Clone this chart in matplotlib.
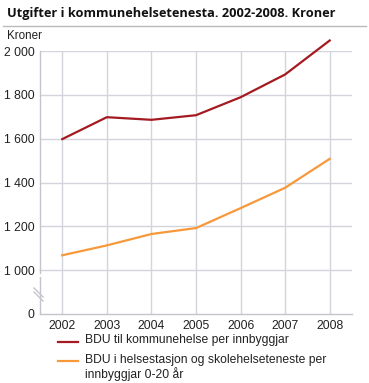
import matplotlib
matplotlib.use("Agg")
import matplotlib.pyplot as plt
from matplotlib.lines import Line2D
import numpy as np

years = [2002, 2003, 2004, 2005, 2006, 2007, 2008]
bdu_kommunehelse = [1598, 1698, 1686, 1707, 1789, 1893, 2048]
bdu_helsestasjon = [1068, 1113, 1165, 1192, 1283, 1376, 1508]
series_labels = ["BDU til kommunehelse per innbyggjar",
                 "BDU i helsestasjon og skolehelseteneste per\ninnbyggjar 0-20 år"]
ytick_vals = [0, 1000, 1200, 1400, 1600, 1800, 2000]
ytick_labels = ["0", "1 000", "1 200", "1 400", "1 600", "1 800", "2 000"]
title = "Utgifter i kommunehelsetenesta. 2002-2008. Kroner"
unit = "Kroner"

RED = "#a31b21"
ORANGE = "#f7983a"
GRID = "#d4d4dc"
FONT = "Liberation Sans"

W, H = 369, 383
fig = plt.figure(figsize=(W / 100, H / 100), dpi=100)

def px(x, y):
    return x / W, 1 - y / H

# broken axis: values below 1000 are compressed
def fwd(v):
    v = np.asarray(v, dtype=float)
    return np.where(v >= 1000, v, 800 + v * 0.2)

def inv(v):
    v = np.asarray(v, dtype=float)
    return np.where(v >= 1000, v, (v - 800) / 0.2)

l, t = px(40, 51)
r, b = px(352, 314)
ax = fig.add_axes([l, b, r - l, t - b])
ax.set_yscale("function", functions=(fwd, inv))
ax.set_ylim(0, 2000)
ax.set_xlim(2001.5, 2008.5)

for s in ["top", "right", "left"]:
    ax.spines[s].set_visible(False)
ax.spines["bottom"].set_color("#c4c4cc")
ax.spines["bottom"].set_linewidth(1.0)

ax.set_yticks(ytick_vals)
ax.set_yticklabels(ytick_labels)
ax.set_xticks(years)
ax.set_xticklabels([str(y) for y in years])
ax.tick_params(length=0, labelsize=8.8, colors="#222222")
ax.tick_params(axis="y", pad=4.0)
ax.tick_params(axis="x", pad=4)
for lab in ax.get_xticklabels() + ax.get_yticklabels():
    lab.set_fontfamily(FONT)

for v in ytick_vals[1:]:
    ax.axhline(v, color=GRID, lw=1.0, zorder=1)
for yv in years:
    ax.axvline(yv, color=GRID, lw=1.0, zorder=1)

# left axis segments and break marks
ax.plot([0, 0], [1000, 2000], transform=ax.get_yaxis_transform(), color="#c4c4cc", lw=1.0, clip_on=False, zorder=2)
ax.plot([0, 0], [0, 850], transform=ax.get_yaxis_transform(), color="#c4c4cc", lw=1.0, clip_on=False, zorder=2)
ax.plot([0, 0], [930, 1000], transform=ax.get_yaxis_transform(), color="#c4c4cc", lw=1.0, clip_on=False, zorder=2)
for dy in (0, 4):
    x0, y0 = px(34, 288 + dy)
    x1, y1 = px(43, 297 + dy)
    fig.add_artist(Line2D([x0, x1], [y0, y1], color="#c4c4cc", lw=1.0))

ax.plot(years, bdu_kommunehelse, color=RED, lw=1.6, clip_on=False, zorder=3)
ax.plot(years, bdu_helsestasjon, color=ORANGE, lw=1.6, clip_on=False, zorder=3)

# title, rule and unit
tx, ty = px(7, 14)
fig.text(tx, ty, title, fontsize=9.2, fontweight="bold", family="Open Sans", va="center", ha="left", color="#111111")
x0, y0 = px(3, 26)
x1, _ = px(366, 26)
fig.add_artist(Line2D([x0, x1], [y0, y0], color="#bbbbbb", lw=1.0))
ux, uy = px(7, 36)
fig.text(ux, uy, unit, fontsize=8.4, family=FONT, va="center", ha="left", color="#222222")

# legend
leg_y = [342, 361]
for col, lab, yy in zip([RED, ORANGE], series_labels, leg_y):
    a0, c0 = px(58, yy)
    a1, _ = px(78, yy)
    fig.add_artist(Line2D([a0, a1], [c0, c0], color=col, lw=1.6))
    tx2, ty2 = px(85, yy - 7.5)
    fig.text(tx2, ty2, lab, fontsize=8.7, family=FONT, va="top", ha="left", color="#222222", linespacing=1.1)

fig.savefig("out.png", dpi=100)
